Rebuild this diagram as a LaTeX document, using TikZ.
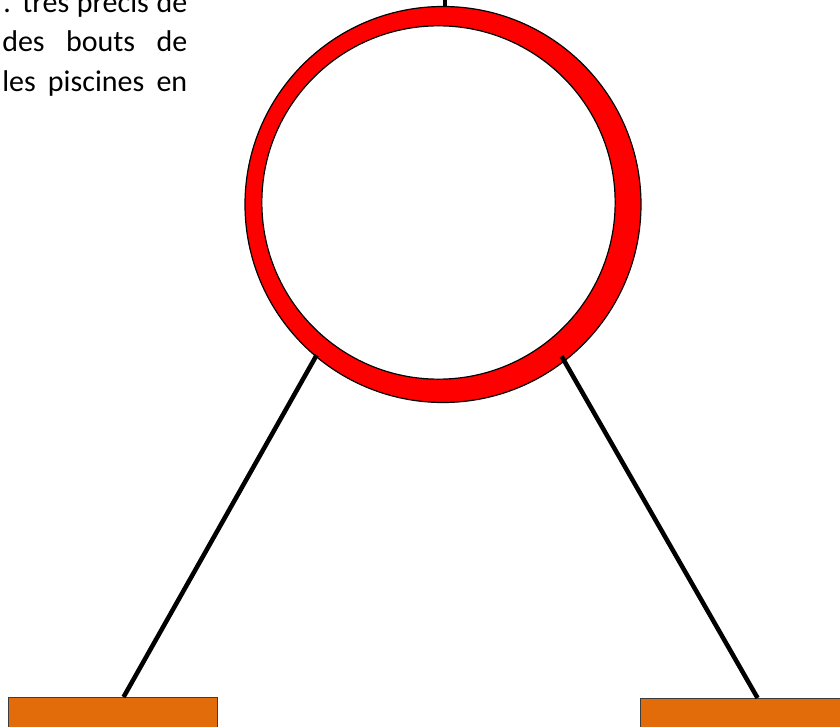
\documentclass[tikz,border=0pt]{standalone}
\usepackage{fontspec}
\setmainfont{Carlito}
\usepackage{xcolor}
\definecolor{HoopRed}{RGB}{255,0,0}
\definecolor{BaseOrange}{RGB}{227,108,10}
\definecolor{EdgeGray}{RGB}{60,60,60}
\usetikzlibrary{positioning,calc}

\begin{document}
\begin{tikzpicture}[x=0.75pt, y=-0.75pt,
    hoop/.style={circle, draw=black, fill=HoopRed, line width=0.9pt,
                 minimum size=297pt, inner sep=0pt},
    hole/.style={circle, draw=black, fill=white, line width=0.9pt,
                 minimum size=265pt, inner sep=0pt},
    base/.style={rectangle, draw=EdgeGray, fill=BaseOrange, line width=0.8pt,
                 minimum width=156.75pt, minimum height=45pt, inner sep=0pt,
                 anchor=north west},
    rope/.style={line width=3.4pt, black},
    txt/.style={anchor=base west, inner sep=0pt, font=\fontsize{22.5}{27}\selectfont}
]
    \useasboundingbox (0,0) rectangle (840,727);
    \clip (0,0) rectangle (840,727);
    % text cut from the page
    \node[txt] (line1) at (3,12.3) {\makebox[138pt][s]{. très précis de}};
    \node[txt] (line2) at (2,51.8) {\makebox[138.75pt][s]{des bouts de}};
    \node[txt] (line3) at (2,91.5) {\makebox[138.75pt][s]{les piscines en}};
    % ring
    \node[hoop] (hoop) at (443,204.5) {};
    \node[hole] (hole) at (438.5,202.5) {};
    % bases
    \node[base] (leftbase) at (8,697) {};
    \node[base] (rightbase) at (640,698) {};
    % ropes
    \draw[rope] ([xshift=1.5pt]hoop.north) -- ++(0,-15);
    \draw[rope] ($(hoop.center)!0.99!(hoop.230)$) -- ([xshift=7.9pt]leftbase.north);
    \draw[rope] ($(hoop.center)!0.97!(hoop.308)$) -- ([xshift=9.4pt]rightbase.north);
\end{tikzpicture}
\end{document}
